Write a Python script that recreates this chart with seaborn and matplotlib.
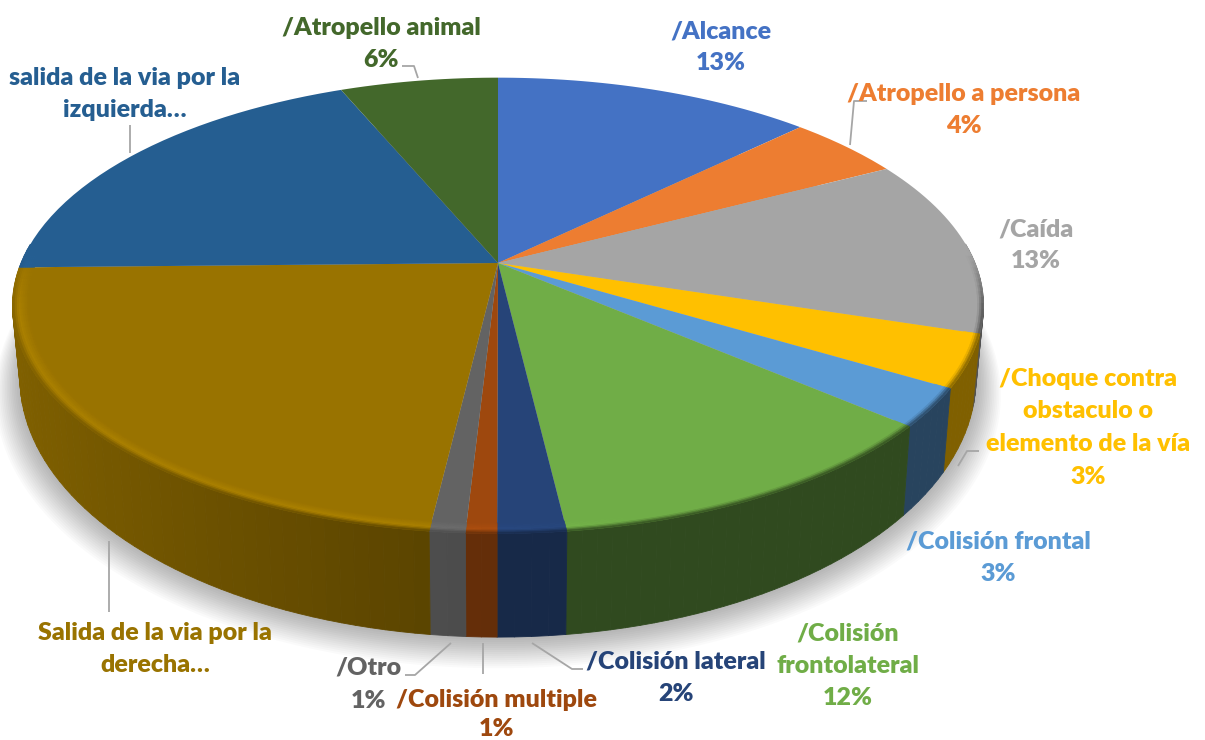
import numpy as np
import matplotlib
matplotlib.use("Agg")
import matplotlib.pyplot as plt
import seaborn as sns
from matplotlib.collections import PolyCollection
from matplotlib.path import Path
from matplotlib.transforms import Transform, Affine2D

# ---------- data ----------
categories = ["Alcance", "Atropello a persona", "Caída",
              "Choque contra obstaculo o elemento de la vía",
              "Colisión frontal", "Colisión frontolateral", "Colisión lateral",
              "Colisión multiple", "Otro", "Salida de la via por la derecha",
              "salida de la via por la izquierda", "Atropello animal"]
values = [12.7, 4.6, 12.6, 3.7, 2.7, 11.8, 1.9, 0.86, 0.99, 22.8, 19.0, 6.3]
palette = ["#4472C4", "#ED7D31", "#A5A5A5", "#FFC000", "#5B9BD5", "#70AD47",
           "#264478", "#9E480E", "#636363", "#997300", "#255E91", "#43682B"]
wall_shade = [.6, .6, .5, .5, .44, .43, .6, .63, .75, .56, .6, .6]
label_lines = [["/Alcance", "13%"], ["/Atropello a persona", "4%"], ["/Caída", "13%"],
               ["/Choque contra", "obstaculo o", "elemento de la vía", "3%"],
               ["/Colisión frontal", "3%"], ["/Colisión", "frontolateral", "12%"],
               ["/Colisión lateral", "2%"], ["/Colisión multiple", "1%"], ["/Otro", "1%"],
               ["Salida de la via por la", "derecha…"],
               ["salida de la via por la", "izquierda…"], ["/Atropello animal", "6%"]]
label_x = [721, 964, 1036, 1088, 998, 848, 676, 497, 368, 155, 125, 381]
label_y = [31, 94, 229, 379, 542, 634, 662, 700, 668, 633, 78, 28]
label_pitch = [32, 32, 32, 32.5, 32, 32, 32, 28.5, 32.5, 32, 32, 32]
leaders = [None, [(867, 101), (854, 101), (850, 145)], None,
           [(979, 451), (967, 451), (958, 466)], None, None,
           [(583, 669), (572, 669), (532, 643)], [(483, 674), (483, 643)],
           [(405, 675), (415, 675), (451, 643)], [(109, 612), (109, 541)],
           [(130, 125), (130, 153)], [(402, 66), (414, 66), (418, 78)]]

# ---------- projection ----------
CX, CY = 498.0, 263.0
K, A_TOP, B_TOP = 0.187, 477.0, 220.0
A_LOW, B_LOW, C_LOW = 469.6, 250.0, -66.6


def project(x, y, a=A_TOP, b=B_TOP, c=0.0):
    w = 1 + K * y
    return CX + a * x / w, CY - (c + b * y / w)


class Perspective(Transform):
    input_dims = output_dims = 2
    is_affine = False
    has_inverse = False

    def transform_non_affine(self, values):
        v = np.asarray(values, float)
        X, Y = project(v[:, 0], v[:, 1])
        return np.column_stack([X, Y])

    def transform_path_non_affine(self, path):
        polys = Affine2D().scale(800).transform_path(path).to_polygons(closed_only=True)
        return Path(self.transform_non_affine(polys[0] / 800))


def shade(col, f):
    return np.clip(np.array(col) * f, 0, 1)


def blend(c1, c2, t):
    return np.array(c1) * (1 - t) + np.array(c2) * t


sns.set_theme(style="white")
plt.rcParams["font.family"] = ["Lato", "DejaVu Sans"]
colors = sns.color_palette(palette, n_colors=len(palette))

fig = plt.figure(figsize=(12.05, 7.40), dpi=100, facecolor="white")
ax = fig.add_axes([0, 0, 1, 1])

wedges, _ = ax.pie(values, colors=colors, startangle=90, counterclock=False, radius=1.0,
                   wedgeprops=dict(linewidth=0, zorder=5))
persp = Perspective() + ax.transData
for w in wedges:
    w.set_transform(persp)
ax.set_aspect("auto")
ax.set_xlim(0, 1205)
ax.set_ylim(740, 0)
ax.axis("off")

# soft shadow below the disc
ang = np.linspace(0, 2 * np.pi, 360)
for r, dy in zip(np.linspace(1.05, 1.0, 16), np.linspace(12, 1, 16)):
    X, Y = project(r * np.sin(ang), r * np.cos(ang), A_LOW, B_LOW, C_LOW)
    ax.fill(X, Y + dy, color="black", alpha=0.02, lw=0, zorder=1)

# outer wall and bevelled rim, one slice at a time
wall_polys, wall_cols, rim_polys, rim_cols = [], [], [], []
radii = np.linspace(0.968, 1.0, 9)
for wdg, col, ws in zip(wedges, colors, wall_shade):
    th1, th2 = wdg.theta1, wdg.theta2
    n = max(2, int((th2 - th1) / 1.5))
    th = np.radians(np.linspace(th1, th2, n + 1))
    xs, ys = np.cos(th), np.sin(th)
    xt, yt = project(xs, ys)
    xb, yb = project(xs, ys, A_LOW, B_LOW, C_LOW)
    for i in range(n):
        if 0.5 * (ys[i] + ys[i + 1]) > 0.08:
            continue
        u = 0.5 * (xs[i] + xs[i + 1])
        f = ws + (0.29 * abs(u) if u < 0 else 0)
        wc = shade(col, f)
        wall_polys.append([(xt[i], yt[i]), (xt[i + 1], yt[i + 1]), (xb[i + 1], yb[i + 1]), (xb[i], yb[i])])
        wall_cols.append(wc)
        ym = 0.5 * (ys[i] + ys[i + 1])
        vis = np.clip((0.05 - ym) / 0.25, 0, 1)
        # highlight only on the front-left of the rim
        glow = np.clip((0.25 - u) / 0.4, 0, 1) * 0.12
        lite = np.clip(np.array(col) * (1 + glow), 0, 1)
        for j in range(len(radii) - 1):
            t = (j + 0.5) / (len(radii) - 1)
            if t < 0.62:
                c = blend(col, lite, t / 0.62)
            else:
                c = blend(lite, wc, (t - 0.62) / 0.38)
            c = blend(col, c, max(vis, 0))
            r0, r1 = radii[j], radii[j + 1]
            x00, y00 = project(r0 * xs[i], r0 * ys[i])
            x01, y01 = project(r0 * xs[i + 1], r0 * ys[i + 1])
            x11, y11 = project(r1 * xs[i + 1], r1 * ys[i + 1])
            x10, y10 = project(r1 * xs[i], r1 * ys[i])
            rim_polys.append([(x00, y00), (x01, y01), (x11, y11), (x10, y10)])
            rim_cols.append(c)

ax.add_collection(PolyCollection(wall_polys, facecolors=wall_cols, edgecolors=wall_cols,
                                 linewidths=0.6, zorder=3))
ax.add_collection(PolyCollection(rim_polys, facecolors=rim_cols, edgecolors=rim_cols,
                                 linewidths=0.4, zorder=6))

# leader lines
for pts in leaders:
    if pts:
        ax.plot(*zip(*pts), color="#A6A6A6", lw=1.3, zorder=7, solid_capstyle="butt")

# labels
for lines, x, y, pitch, col in zip(label_lines, label_x, label_y, label_pitch, colors):
    for i, s in enumerate(lines):
        ax.text(x, y + i * pitch, s, color=col, ha="center", va="center",
                fontsize=18, fontweight="heavy", zorder=8)

fig.savefig("out.png", dpi=100, facecolor="white")
